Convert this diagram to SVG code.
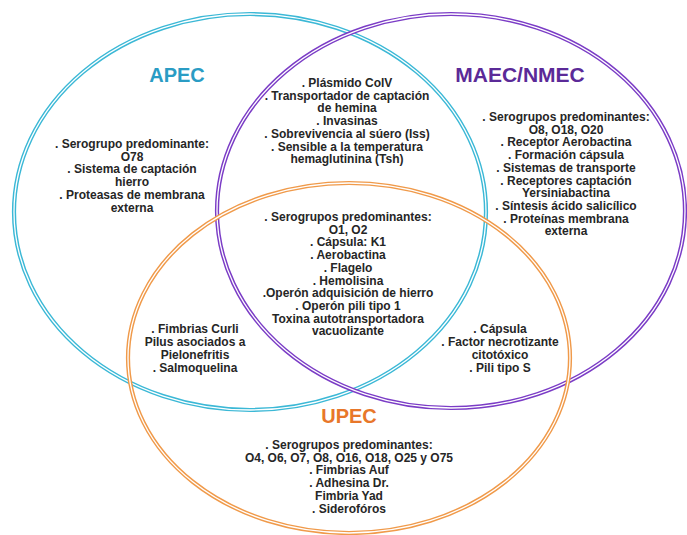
<svg xmlns="http://www.w3.org/2000/svg" width="687" height="535" viewBox="0 0 687 535">
<style>
.ring{fill:none;stroke-width:4.2}
.gap{fill:none;stroke:#fff;stroke-width:1.3}
.t{font-family:"Liberation Sans",Arial,sans-serif;font-weight:bold;font-size:12px;fill:#262626;text-anchor:middle}
.h{font-family:"Liberation Sans",Arial,sans-serif;font-weight:bold;font-size:20px;text-anchor:middle}
</style>
<rect width="687" height="535" fill="#fff"/>
<g id="circles">
<g id="apec-ring"><ellipse class="ring" stroke="#3bb8d6" cx="250" cy="212" rx="236" ry="198"/><ellipse class="gap" cx="250" cy="212" rx="236" ry="198"/></g>
<g id="maec-ring"><ellipse class="ring" stroke="#7b3cc6" cx="451" cy="211" rx="234" ry="197"/><ellipse class="gap" cx="451" cy="211" rx="234" ry="197"/></g>
<g id="upec-ring"><ellipse class="ring" stroke="#f09a4a" cx="349" cy="358" rx="221" ry="175"/><ellipse class="gap" cx="349" cy="358" rx="221" ry="175"/></g>
</g>
<g id="apec">
<text class="h" x="177" y="82" fill="#2a9cc4">APEC</text>
<text class="t"><tspan x="132" y="148">. Serogrupo predominante:</tspan><tspan x="132" y="160.7">O78</tspan><tspan x="132" y="173.4">. Sistema de captación</tspan><tspan x="132" y="186.1">hierro</tspan><tspan x="132" y="198.8">. Proteasas de membrana</tspan><tspan x="132" y="211.5">externa</tspan></text>
</g>
<g id="maec">
<text class="h" x="520" y="82" fill="#5b2a98" style="font-size:21px">MAEC/NMEC</text>
<text class="t"><tspan x="566" y="121">. Serogrupos predominantes:</tspan><tspan x="566" y="133.7">O8, O18, O20</tspan><tspan x="566" y="146.4">. Receptor Aerobactina</tspan><tspan x="566" y="159.1">. Formación cápsula</tspan><tspan x="566" y="171.8">. Sistemas de transporte</tspan><tspan x="566" y="184.5">. Receptores captación</tspan><tspan x="566" y="197.2">Yersiniabactina</tspan><tspan x="566" y="209.9">. Síntesis ácido salicílico</tspan><tspan x="566" y="222.6">. Proteínas membrana</tspan><tspan x="566" y="235.3">externa</tspan></text>
</g>
<g id="upec">
<text class="h" x="349" y="423" fill="#e8772a">UPEC</text>
<text class="t"><tspan x="349" y="449">. Serogrupos predominantes:</tspan><tspan x="349" y="461.7">O4, O6, O7, O8, O16, O18, O25 y O75</tspan><tspan x="349" y="474.4">. Fimbrias Auf</tspan><tspan x="349" y="487.1">. Adhesina Dr.</tspan><tspan x="349" y="499.8">Fimbria Yad</tspan><tspan x="349" y="512.5">. Siderofóros</tspan></text>
</g>
<g id="apec-maec">
<text class="t"><tspan x="347" y="87">. Plásmido ColV</tspan><tspan x="347" y="99.7">. Transportador de captación</tspan><tspan x="347" y="112.4">de hemina</tspan><tspan x="347" y="125.1">. Invasinas</tspan><tspan x="347" y="137.8">. Sobrevivencia al súero (Iss)</tspan><tspan x="347" y="150.5">. Sensible a la temperatura</tspan><tspan x="347" y="163.2">hemaglutinina (Tsh)</tspan></text>
</g>
<g id="all-three">
<text class="t"><tspan x="348" y="221">. Serogrupos predominantes:</tspan><tspan x="348" y="233.7">O1, O2</tspan><tspan x="348" y="246.4">. Cápsula: K1</tspan><tspan x="348" y="259.1">. Aerobactina</tspan><tspan x="348" y="271.8">. Flagelo</tspan><tspan x="348" y="284.5">. Hemolisina</tspan><tspan x="348" y="297.2">.Operón adquisición de hierro</tspan><tspan x="348" y="309.9">. Operón pili tipo 1</tspan><tspan x="348" y="322.6">Toxina autotransportadora</tspan><tspan x="348" y="335.3">vacuolizante</tspan></text>
</g>
<g id="apec-upec">
<text class="t"><tspan x="195" y="333">. Fimbrias Curli</tspan><tspan x="195" y="346">Pilus asociados a</tspan><tspan x="195" y="359">Pielonefritis</tspan><tspan x="195" y="372">. Salmoquelina</tspan></text>
</g>
<g id="maec-upec">
<text class="t"><tspan x="500" y="333">. Cápsula</tspan><tspan x="500" y="346">. Factor necrotizante</tspan><tspan x="500" y="359">citotóxico</tspan><tspan x="500" y="372">. Pili tipo S</tspan></text>
</g>
</svg>
